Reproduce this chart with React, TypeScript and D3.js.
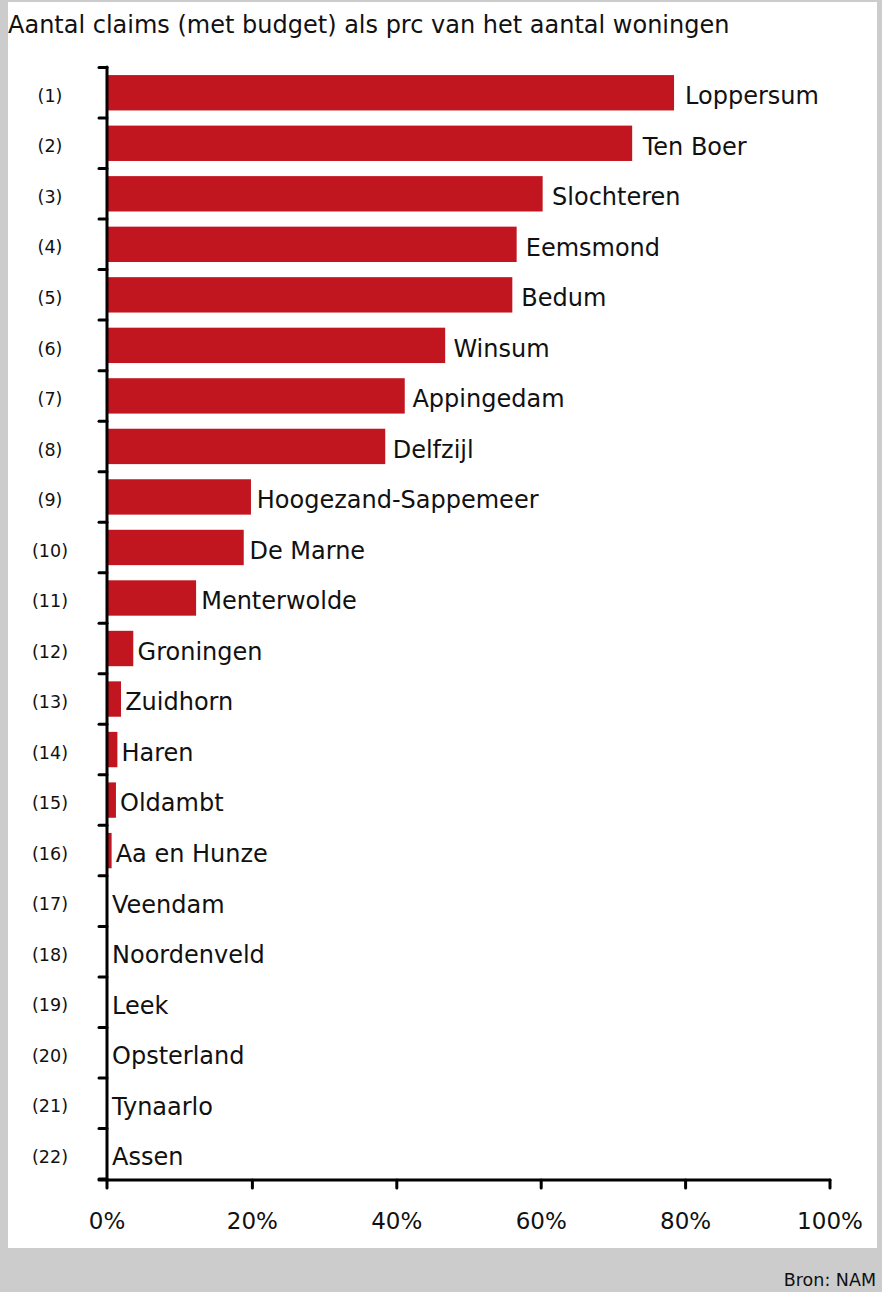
import React, { useEffect, useRef } from 'react';
import * as d3 from 'd3';

const municipalities = [
  'Loppersum', 'Ten Boer', 'Slochteren', 'Eemsmond', 'Bedum', 'Winsum',
  'Appingedam', 'Delfzijl', 'Hoogezand-Sappemeer', 'De Marne', 'Menterwolde',
  'Groningen', 'Zuidhorn', 'Haren', 'Oldambt', 'Aa en Hunze', 'Veendam',
  'Noordenveld', 'Leek', 'Opsterland', 'Tynaarlo', 'Assen',
];
const claimPct = [
  78.4, 72.6, 60.2, 56.6, 56.0, 46.7, 41.1, 38.4, 19.8, 18.8, 12.2,
  3.5, 1.8, 1.3, 1.1, 0.5, 0, 0, 0, 0, 0, 0,
];
const xTicks = [0, 20, 40, 60, 80, 100];

const W = 882;
const H = 1292;
const FONT = '"DejaVu Sans", "Open Sans", sans-serif';

const App: React.FC = () => {
  const svgRef = useRef<SVGSVGElement | null>(null);

  useEffect(() => {
    const svg = d3.select(svgRef.current);
    svg.selectAll('*').remove();

    // grey frame with white panel
    svg.append('rect').attr('width', W).attr('height', H).attr('fill', '#cccccc');
    svg.append('rect').attr('x', 8).attr('y', 2).attr('width', 869).attr('height', 1246).attr('fill', '#ffffff');

    svg.append('text')
      .attr('x', 8).attr('y', 33)
      .attr('font-family', FONT).attr('font-size', 24).attr('fill', '#111')
      .text('Aantal claims (met budget) als prc van het aantal woningen');

    svg.append('text')
      .attr('x', 876).attr('y', 1286)
      .attr('text-anchor', 'end')
      .attr('font-family', FONT).attr('font-size', 17.5).attr('fill', '#111')
      .text('Bron: NAM');

    const data = municipalities.map((name, i) => ({ name, rank: i + 1, value: claimPct[i] }));

    const top = 67.5;
    const bottom = 1179;
    const x = d3.scaleLinear().domain([0, 100]).range([108, 830]);
    const y = d3.scaleBand<string>()
      .domain(municipalities)
      .range([top, bottom])
      .paddingInner(0.3)
      .paddingOuter(0.15);

    // bars
    svg.append('g')
      .selectAll('rect')
      .data(data)
      .join('rect')
      .attr('x', x(0))
      .attr('y', d => (y(d.name) ?? 0))
      .attr('width', d => x(d.value) - x(0))
      .attr('height', y.bandwidth())
      .attr('fill', '#c1151f');

    // bar labels
    svg.append('g')
      .selectAll('text')
      .data(data)
      .join('text')
      .attr('x', d => x(d.value) + 4 + d.value * 0.09)
      .attr('y', d => (y(d.name) ?? 0) + y.bandwidth() / 2 + 3)
      .attr('dy', '0.35em')
      .attr('font-family', FONT).attr('font-size', 24).attr('fill', '#111')
      .text(d => d.name);

    // rank labels
    svg.append('g')
      .selectAll('text')
      .data(data)
      .join('text')
      .attr('x', 50)
      .attr('y', d => (y(d.name) ?? 0) + y.bandwidth() / 2 + 3)
      .attr('dy', '0.35em')
      .attr('text-anchor', 'middle')
      .attr('font-family', FONT).attr('font-size', 17.5).attr('fill', '#111')
      .text(d => `(${d.rank})`);

    // y axis, ticks on category boundaries
    const boundaries = d3.range(municipalities.length + 1).map(i => top + i * ((bottom - top) / municipalities.length));
    const axisG = svg.append('g').attr('stroke', '#000').attr('stroke-width', 3).attr('stroke-linecap', 'round');
    axisG.append('line').attr('x1', 107).attr('x2', 107).attr('y1', 67).attr('y2', 1180);
    axisG.selectAll('line.ytick')
      .data(boundaries)
      .join('line')
      .attr('class', 'ytick')
      .attr('x1', 99).attr('x2', 107)
      .attr('y1', d => d).attr('y2', d => d);

    // x axis
    axisG.append('line').attr('x1', 99).attr('x2', x(100)).attr('y1', 1180).attr('y2', 1180);
    axisG.selectAll('line.xtick')
      .data(xTicks)
      .join('line')
      .attr('class', 'xtick')
      .attr('x1', d => (d === 0 ? 107 : x(d))).attr('x2', d => (d === 0 ? 107 : x(d)))
      .attr('y1', 1180).attr('y2', 1188);

    svg.append('g')
      .selectAll('text')
      .data(xTicks)
      .join('text')
      .attr('x', d => (d === 0 ? 107 : x(d)))
      .attr('y', 1229)
      .attr('text-anchor', 'middle')
      .attr('font-family', FONT).attr('font-size', 23).attr('fill', '#111')
      .text(d => `${d}%`);
  }, []);

  return (
    <div style={{ position: 'absolute', left: 0, top: 0 }}>
      <svg ref={svgRef} width={W} height={H} style={{ display: 'block' }}></svg>
    </div>
  );
};

export default App;
